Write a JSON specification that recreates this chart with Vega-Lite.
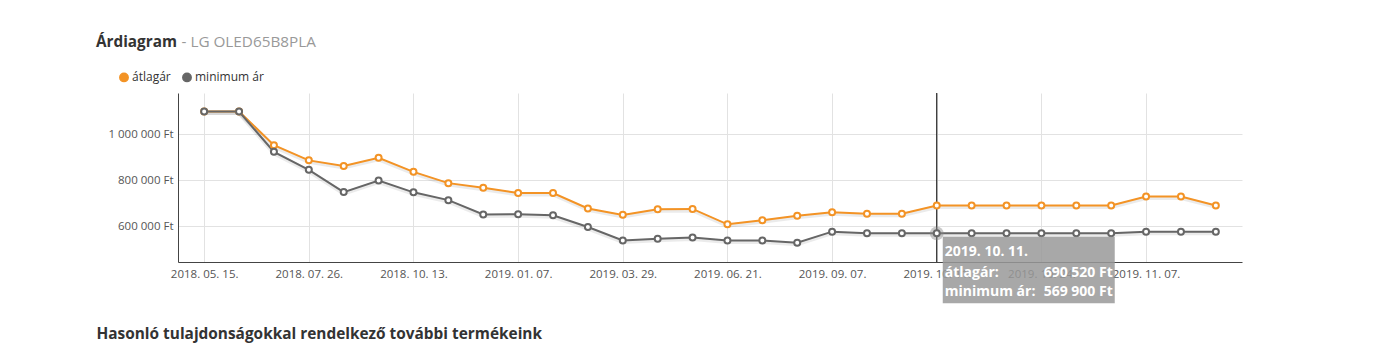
{
  "$schema": "https://vega.github.io/schema/vega-lite/v6.json",
  "width": 1064,
  "height": 169,
  "autosize": {"type": "none"},
  "padding": {"left": 178, "top": 93, "right": 144, "bottom": 94},
  "background": "#ffffff",
  "title": {
    "text": "Árdiagram",
    "anchor": "start",
    "frame": "group",
    "dx": -82,
    "dy": 20,
    "fontSize": 15.3,
    "fontWeight": "bold",
    "color": "#333333",
    "font": "Open Sans"
  },
  "config": {
    "font": "Open Sans",
    "view": {"stroke": null},
    "locale": {
      "number": {"decimal": ",", "thousands": " ", "grouping": [3], "currency": ["", " Ft"]}
    },
    "axis": {
      "labelFont": "Open Sans",
      "labelFontSize": 11.5,
      "labelColor": "#555555",
      "domainColor": "#444444",
      "gridColor": "#e2e2e2",
      "ticks": false,
      "titleFont": "Open Sans"
    },
    "legend": {"labelFont": "Open Sans"}
  },
  "data": {
    "values": [
      {"date": "2018. 05. 15.", "átlagár": 1099000, "minimum ár": 1099000},
      {"date": "2018. 06. 08.", "átlagár": 1099000, "minimum ár": 1099000},
      {"date": "2018. 07. 02.", "átlagár": 953000, "minimum ár": 924000},
      {"date": "2018. 07. 26.", "átlagár": 887000, "minimum ár": 846000},
      {"date": "2018. 08. 21.", "átlagár": 863000, "minimum ár": 749000},
      {"date": "2018. 09. 17.", "átlagár": 898000, "minimum ár": 799000},
      {"date": "2018. 10. 13.", "átlagár": 837000, "minimum ár": 748000},
      {"date": "2018. 11. 10.", "átlagár": 788000, "minimum ár": 714000},
      {"date": "2018. 12. 09.", "átlagár": 768000, "minimum ár": 652000},
      {"date": "2019. 01. 07.", "átlagár": 745000, "minimum ár": 653000},
      {"date": "2019. 02. 03.", "átlagár": 745000, "minimum ár": 648000},
      {"date": "2019. 03. 02.", "átlagár": 678000, "minimum ár": 597000},
      {"date": "2019. 03. 29.", "átlagár": 650000, "minimum ár": 539000},
      {"date": "2019. 04. 25.", "átlagár": 674000, "minimum ár": 546000},
      {"date": "2019. 05. 23.", "átlagár": 676000, "minimum ár": 552000},
      {"date": "2019. 06. 21.", "átlagár": 609000, "minimum ár": 539000},
      {"date": "2019. 07. 19.", "átlagár": 627000, "minimum ár": 539000},
      {"date": "2019. 08. 13.", "átlagár": 646000, "minimum ár": 529000},
      {"date": "2019. 09. 07.", "átlagár": 661000, "minimum ár": 577000},
      {"date": "2019. 09. 18.", "átlagár": 655000, "minimum ár": 570000},
      {"date": "2019. 09. 30.", "átlagár": 655000, "minimum ár": 569900},
      {"date": "2019. 10. 11.", "átlagár": 690520, "minimum ár": 569900},
      {"date": "2019. 10. 15.", "átlagár": 690520, "minimum ár": 569900},
      {"date": "2019. 10. 20.", "átlagár": 690520, "minimum ár": 569900},
      {"date": "2019. 10. 24.", "átlagár": 690520, "minimum ár": 569900},
      {"date": "2019. 10. 28.", "átlagár": 690520, "minimum ár": 569900},
      {"date": "2019. 11. 02.", "átlagár": 690520, "minimum ár": 569900},
      {"date": "2019. 11. 07.", "átlagár": 730000, "minimum ár": 577000},
      {"date": "2019. 11. 12.", "átlagár": 730000, "minimum ár": 577000},
      {"date": "2019. 11. 17.", "átlagár": 691000, "minimum ár": 577000}
    ]
  },
  "layer": [
    {
      "transform": [{"fold": ["átlagár", "minimum ár"], "as": ["series", "price"]}],
      "mark": {"type": "line", "stroke": "#000000", "strokeWidth": 4, "opacity": 0.08, "yOffset": 1.5},
      "encoding": {
        "x": {
          "field": "date",
          "type": "ordinal",
          "sort": null,
          "scale": {"type": "point", "padding": 0.75},
          "axis": {
            "values": ["2018. 05. 15.", "2018. 07. 26.", "2018. 10. 13.", "2019. 01. 07.", "2019. 03. 29.", "2019. 06. 21.", "2019. 09. 07.", "2019. 10. 11.", "2019. 10. 24.", "2019. 11. 07."],
            "grid": true,
            "labelAngle": 0,
            "labelPadding": 6,
            "title": "Hasonló tulajdonságokkal rendelkező további termékeink",
            "titleX": -82,
            "titleY": 76,
            "titleAlign": "left",
            "titleAnchor": "start",
            "titleBaseline": "alphabetic",
            "titleFontSize": 15.4,
            "titleFontWeight": "bold",
            "titleColor": "#333333"
          }
        },
        "y": {
          "field": "price",
          "type": "quantitative",
          "scale": {"domain": [445000, 1180000], "nice": false, "zero": false},
          "axis": {
            "values": [600000, 800000, 1000000],
            "format": "$,d",
            "grid": true,
            "labelPadding": 5,
            "title": "- LG OLED65B8PLA",
            "titleAngle": 0,
            "titleX": 3,
            "titleY": -47,
            "titleAlign": "left",
            "titleBaseline": "alphabetic",
            "titleFontSize": 15.3,
            "titleFontWeight": "normal",
            "titleColor": "#999999"
          }
        },
        "detail": {"field": "series", "type": "nominal"}
      }
    },
    {
      "transform": [{"fold": ["átlagár", "minimum ár"], "as": ["series", "price"]}],
      "mark": {"type": "line", "strokeWidth": 2},
      "encoding": {
        "x": {"field": "date", "type": "ordinal", "sort": null},
        "y": {"field": "price", "type": "quantitative"},
        "color": {
          "field": "series",
          "type": "nominal",
          "scale": {"domain": ["átlagár", "minimum ár"], "range": ["#f39325", "#666666"]},
          "legend": {
            "title": null,
            "orient": "none",
            "legendX": -60,
            "legendY": -22,
            "direction": "horizontal",
            "symbolType": "circle",
            "symbolSize": 70,
            "labelFontSize": 12,
            "labelColor": "#333333",
            "labelOffset": 2,
            "columnPadding": 8,
            "padding": 0,
            "encode": {
              "symbols": {
                "update": {
                  "fill": {"scale": "color", "field": "value"},
                  "stroke": {"value": "transparent"},
                  "opacity": {"value": 1}
                }
              }
            }
          }
        }
      }
    },
    {
      "transform": [{"filter": "datum.date === '2019. 10. 11.'"}],
      "mark": {"type": "rule", "color": "#000000", "strokeWidth": 1},
      "encoding": {"x": {"field": "date", "type": "ordinal", "sort": null}}
    },
    {
      "transform": [{"filter": "datum.date === '2019. 10. 11.'"}],
      "mark": {"type": "point", "filled": true, "size": 190, "color": "#888888", "opacity": 0.45},
      "encoding": {
        "x": {"field": "date", "type": "ordinal", "sort": null},
        "y": {"field": "minimum ár", "type": "quantitative"}
      }
    },
    {
      "transform": [{"fold": ["átlagár", "minimum ár"], "as": ["series", "price"]}],
      "mark": {"type": "point", "filled": false, "fill": "#ffffff", "fillOpacity": 1, "opacity": 1, "size": 36, "strokeWidth": 2},
      "encoding": {
        "x": {"field": "date", "type": "ordinal", "sort": null},
        "y": {"field": "price", "type": "quantitative"},
        "color": {"field": "series", "type": "nominal"}
      }
    },
    {
      "transform": [{"filter": "datum.date === '2019. 10. 11.'"}],
      "mark": {"type": "bar", "width": 172, "xOffset": 92, "fill": "#999999", "opacity": 0.85},
      "encoding": {
        "x": {"field": "date", "type": "ordinal", "sort": null},
        "y": {"datum": 554800, "type": "quantitative"},
        "y2": {"datum": 265200}
      }
    },
    {
      "transform": [{"filter": "datum.date === '2019. 10. 11.'"}],
      "mark": {"type": "text", "align": "left", "baseline": "alphabetic", "dx": 8, "dy": 23, "fontSize": 14, "fontWeight": "bold", "color": "#ffffff"},
      "encoding": {
        "x": {"field": "date", "type": "ordinal", "sort": null},
        "y": {"field": "minimum ár", "type": "quantitative"},
        "text": {"field": "date"}
      }
    },
    {
      "transform": [{"filter": "datum.date === '2019. 10. 11.'"}],
      "mark": {"type": "text", "align": "left", "baseline": "alphabetic", "dx": 8, "dy": 43.5, "fontSize": 14, "fontWeight": "bold", "color": "#ffffff"},
      "encoding": {
        "x": {"field": "date", "type": "ordinal", "sort": null},
        "y": {"field": "minimum ár", "type": "quantitative"},
        "text": {"value": "átlagár:"}
      }
    },
    {
      "transform": [{"filter": "datum.date === '2019. 10. 11.'"}],
      "mark": {"type": "text", "align": "left", "baseline": "alphabetic", "dx": 8, "dy": 62.5, "fontSize": 14, "fontWeight": "bold", "color": "#ffffff"},
      "encoding": {
        "x": {"field": "date", "type": "ordinal", "sort": null},
        "y": {"field": "minimum ár", "type": "quantitative"},
        "text": {"value": "minimum ár:"}
      }
    },
    {
      "transform": [{"filter": "datum.date === '2019. 10. 11.'"}],
      "mark": {"type": "text", "align": "right", "baseline": "alphabetic", "dx": 176, "dy": 43.5, "fontSize": 14, "fontWeight": "bold", "color": "#ffffff"},
      "encoding": {
        "x": {"field": "date", "type": "ordinal", "sort": null},
        "y": {"field": "minimum ár", "type": "quantitative"},
        "text": {"field": "átlagár", "type": "quantitative", "format": "$,d"}
      }
    },
    {
      "transform": [{"filter": "datum.date === '2019. 10. 11.'"}],
      "mark": {"type": "text", "align": "right", "baseline": "alphabetic", "dx": 176, "dy": 62.5, "fontSize": 14, "fontWeight": "bold", "color": "#ffffff"},
      "encoding": {
        "x": {"field": "date", "type": "ordinal", "sort": null},
        "y": {"field": "minimum ár", "type": "quantitative"},
        "text": {"field": "minimum ár", "type": "quantitative", "format": "$,d"}
      }
    }
  ]
}
